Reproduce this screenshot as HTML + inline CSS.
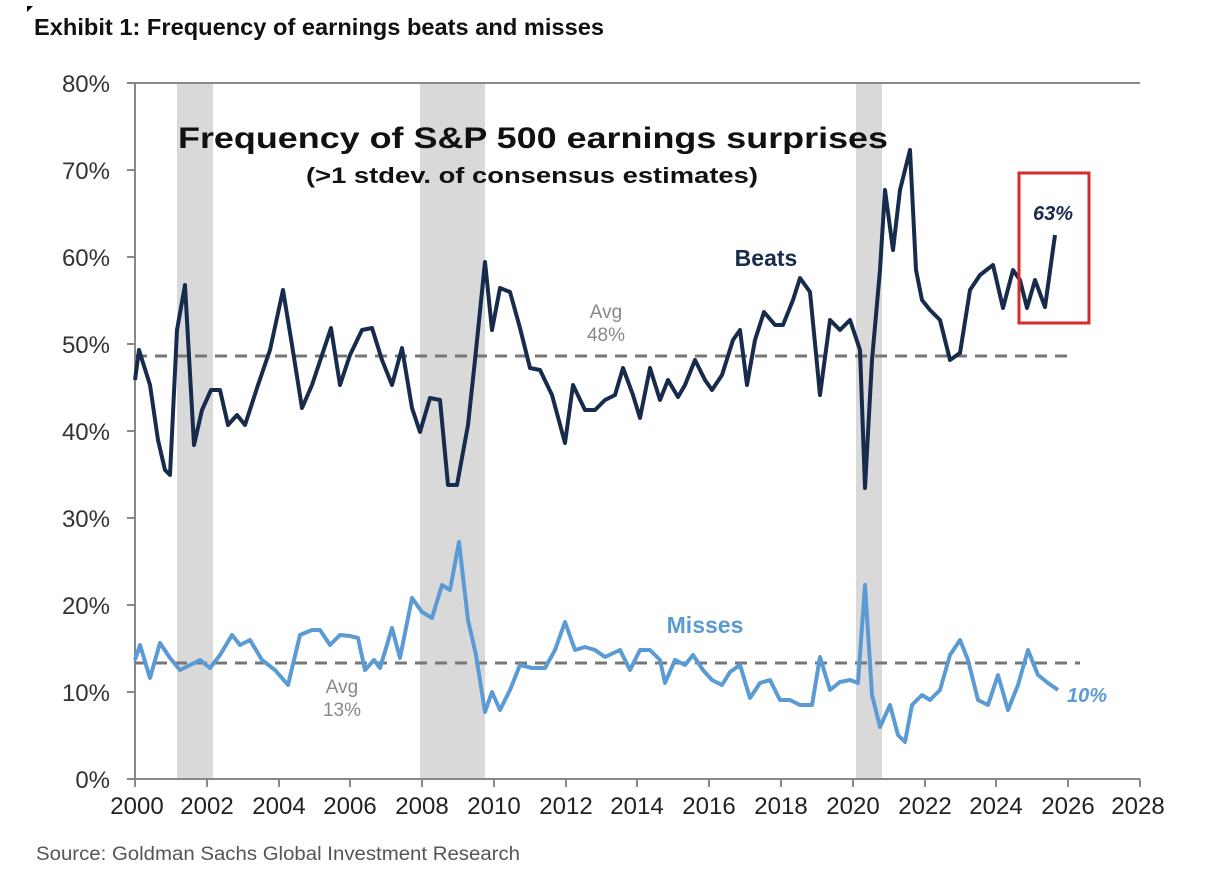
<!DOCTYPE html>
<html><head><meta charset="utf-8"><style>
body{margin:0;background:#fff}
svg{display:block;font-family:"Liberation Sans",Arial,sans-serif}
</style></head><body>
<svg width="1208" height="880" viewBox="0 0 1208 880" xmlns="http://www.w3.org/2000/svg">
<rect width="1208" height="880" fill="#fff"/>
<polygon points="27,6 33,6 27,12" fill="#000"/>
<text x="34" y="35" font-size="23" font-weight="bold" fill="#111" font-family="Liberation Sans Narrow,Liberation Sans,sans-serif" textLength="570" lengthAdjust="spacingAndGlyphs">Exhibit 1: Frequency of earnings beats and misses</text>
<rect x="177" y="83" width="36" height="696" fill="#d9d9d9"/>
<rect x="420" y="83" width="65" height="696" fill="#d9d9d9"/>
<rect x="856" y="83" width="26" height="696" fill="#d9d9d9"/>
<g stroke="#888" stroke-width="2" fill="none">
<line x1="127" y1="83" x2="1140" y2="83"/>
<line x1="135" y1="83" x2="135" y2="779"/>
<line x1="127" y1="779" x2="1140" y2="779"/>
</g>
<g stroke="#888" stroke-width="2">
<line x1="127" y1="170" x2="135" y2="170"/><line x1="127" y1="257" x2="135" y2="257"/><line x1="127" y1="344" x2="135" y2="344"/><line x1="127" y1="431" x2="135" y2="431"/><line x1="127" y1="518" x2="135" y2="518"/><line x1="127" y1="605" x2="135" y2="605"/><line x1="127" y1="692" x2="135" y2="692"/>
<line x1="207" y1="779" x2="207" y2="787"/><line x1="279" y1="779" x2="279" y2="787"/><line x1="350" y1="779" x2="350" y2="787"/><line x1="422" y1="779" x2="422" y2="787"/><line x1="494" y1="779" x2="494" y2="787"/><line x1="566" y1="779" x2="566" y2="787"/><line x1="637" y1="779" x2="637" y2="787"/><line x1="709" y1="779" x2="709" y2="787"/><line x1="781" y1="779" x2="781" y2="787"/><line x1="853" y1="779" x2="853" y2="787"/><line x1="925" y1="779" x2="925" y2="787"/><line x1="996" y1="779" x2="996" y2="787"/><line x1="1068" y1="779" x2="1068" y2="787"/><line x1="1140" y1="779" x2="1140" y2="787"/><line x1="135" y1="779" x2="135" y2="787"/>
</g>
<g font-size="24" fill="#333" text-anchor="end">
<text x="110" y="92">80%</text><text x="110" y="179">70%</text><text x="110" y="266">60%</text><text x="110" y="353">50%</text><text x="110" y="440">40%</text><text x="110" y="527">30%</text><text x="110" y="614">20%</text><text x="110" y="701">10%</text><text x="110" y="788">0%</text>
</g>
<g font-size="24" fill="#222" text-anchor="middle">
<text x="137" y="814">2000</text><text x="207" y="814">2002</text><text x="279" y="814">2004</text><text x="350" y="814">2006</text><text x="422" y="814">2008</text><text x="494" y="814">2010</text><text x="566" y="814">2012</text><text x="637" y="814">2014</text><text x="709" y="814">2016</text><text x="781" y="814">2018</text><text x="853" y="814">2020</text><text x="925" y="814">2022</text><text x="996" y="814">2024</text><text x="1068" y="814">2026</text><text x="1138" y="814">2028</text>
</g>
<text x="36" y="860" font-size="19" fill="#555" font-family="Liberation Sans Narrow,Liberation Sans,sans-serif" textLength="484" lengthAdjust="spacingAndGlyphs">Source: Goldman Sachs Global Investment Research</text>
<line x1="135" y1="356" x2="1075" y2="356" stroke="#777" stroke-width="3" stroke-dasharray="12,8"/>
<line x1="135" y1="663" x2="1080" y2="663" stroke="#777" stroke-width="3" stroke-dasharray="12,8"/>
<text x="178" y="148" font-size="30" font-weight="bold" fill="#111" textLength="710" lengthAdjust="spacingAndGlyphs">Frequency of S&amp;P 500 earnings surprises</text>
<text x="306" y="183" font-size="22" font-weight="bold" fill="#111" textLength="452" lengthAdjust="spacingAndGlyphs">(&gt;1 stdev. of consensus estimates)</text>
<text x="606" y="318" font-size="19" fill="#888" text-anchor="middle">Avg</text>
<text x="606" y="341" font-size="19" fill="#888" text-anchor="middle">48%</text>
<text x="342" y="693" font-size="19" fill="#888" text-anchor="middle">Avg</text>
<text x="342" y="716" font-size="19" fill="#888" text-anchor="middle">13%</text>
<polyline fill="none" stroke="#172b4d" stroke-width="4" stroke-linejoin="round" points="135,380 139,350 150,385 158,440 165,470 170,475 177,330 185,285 194,445 202,410 211,390 220,390 228,425 237,415 245,425 258,385 270,350 283,290 292,345 302,408 312,385 322,355 331,328 340,385 350,355 362,330 372,328 382,360 392,385 402,348 412,408 420,432 430,398 440,400 448,485 457,485 468,425 475,360 485,262 492,330 500,288 510,292 520,328 530,368 540,370 552,395 565,443 573,385 585,410 595,410 605,400 615,395 623,368 633,395 640,418 650,368 660,400 668,380 678,397 685,385 695,360 705,380 712,390 722,375 733,340 740,330 747,385 755,340 764,312 775,325 783,325 793,300 800,278 810,292 820,395 830,320 840,330 850,320 860,350 865,488 872,360 880,270 885,190 893,250 900,190 910,150 916,270 922,300 930,310 940,320 950,360 960,353 970,290 980,275 993,265 1003,308 1013,270 1020,280 1027,308 1035,280 1045,307 1055,235"/>
<polyline fill="none" stroke="#5b9bd5" stroke-width="4" stroke-linejoin="round" points="135,660 140,645 150,678 160,643 170,658 180,670 190,665 200,660 210,668 220,655 232,635 240,645 250,640 262,660 275,670 288,685 300,635 312,630 320,630 330,645 340,635 350,636 358,638 365,670 374,660 380,668 392,628 400,658 412,598 422,612 432,618 442,585 450,590 459,542 468,620 476,655 485,712 492,692 500,710 510,690 520,665 532,668 545,668 555,650 565,622 575,650 585,647 595,650 605,657 620,650 630,670 640,650 650,650 660,660 665,683 675,660 685,665 693,655 703,670 712,680 722,685 730,672 740,665 750,698 760,683 770,680 780,700 790,700 800,705 812,705 820,657 830,690 840,682 850,680 858,683 865,585 872,695 880,727 890,705 898,735 905,742 912,705 922,695 930,700 940,690 950,655 960,640 968,660 978,700 988,705 998,675 1008,710 1018,685 1028,650 1038,675 1048,683 1058,690"/>
<text x="766" y="266" font-size="23" font-weight="bold" fill="#172b4d" text-anchor="middle">Beats</text>
<text x="705" y="633" font-size="23" font-weight="bold" fill="#5b9bd5" text-anchor="middle">Misses</text>
<rect x="1019" y="173" width="70" height="150" fill="none" stroke="#d62c2c" stroke-width="3"/>
<text x="1053" y="220" font-size="20" font-weight="bold" font-style="italic" fill="#172b4d" text-anchor="middle">63%</text>
<text x="1087" y="702" font-size="20" font-weight="bold" font-style="italic" fill="#5b9bd5" text-anchor="middle">10%</text>
</svg>
</body></html>
